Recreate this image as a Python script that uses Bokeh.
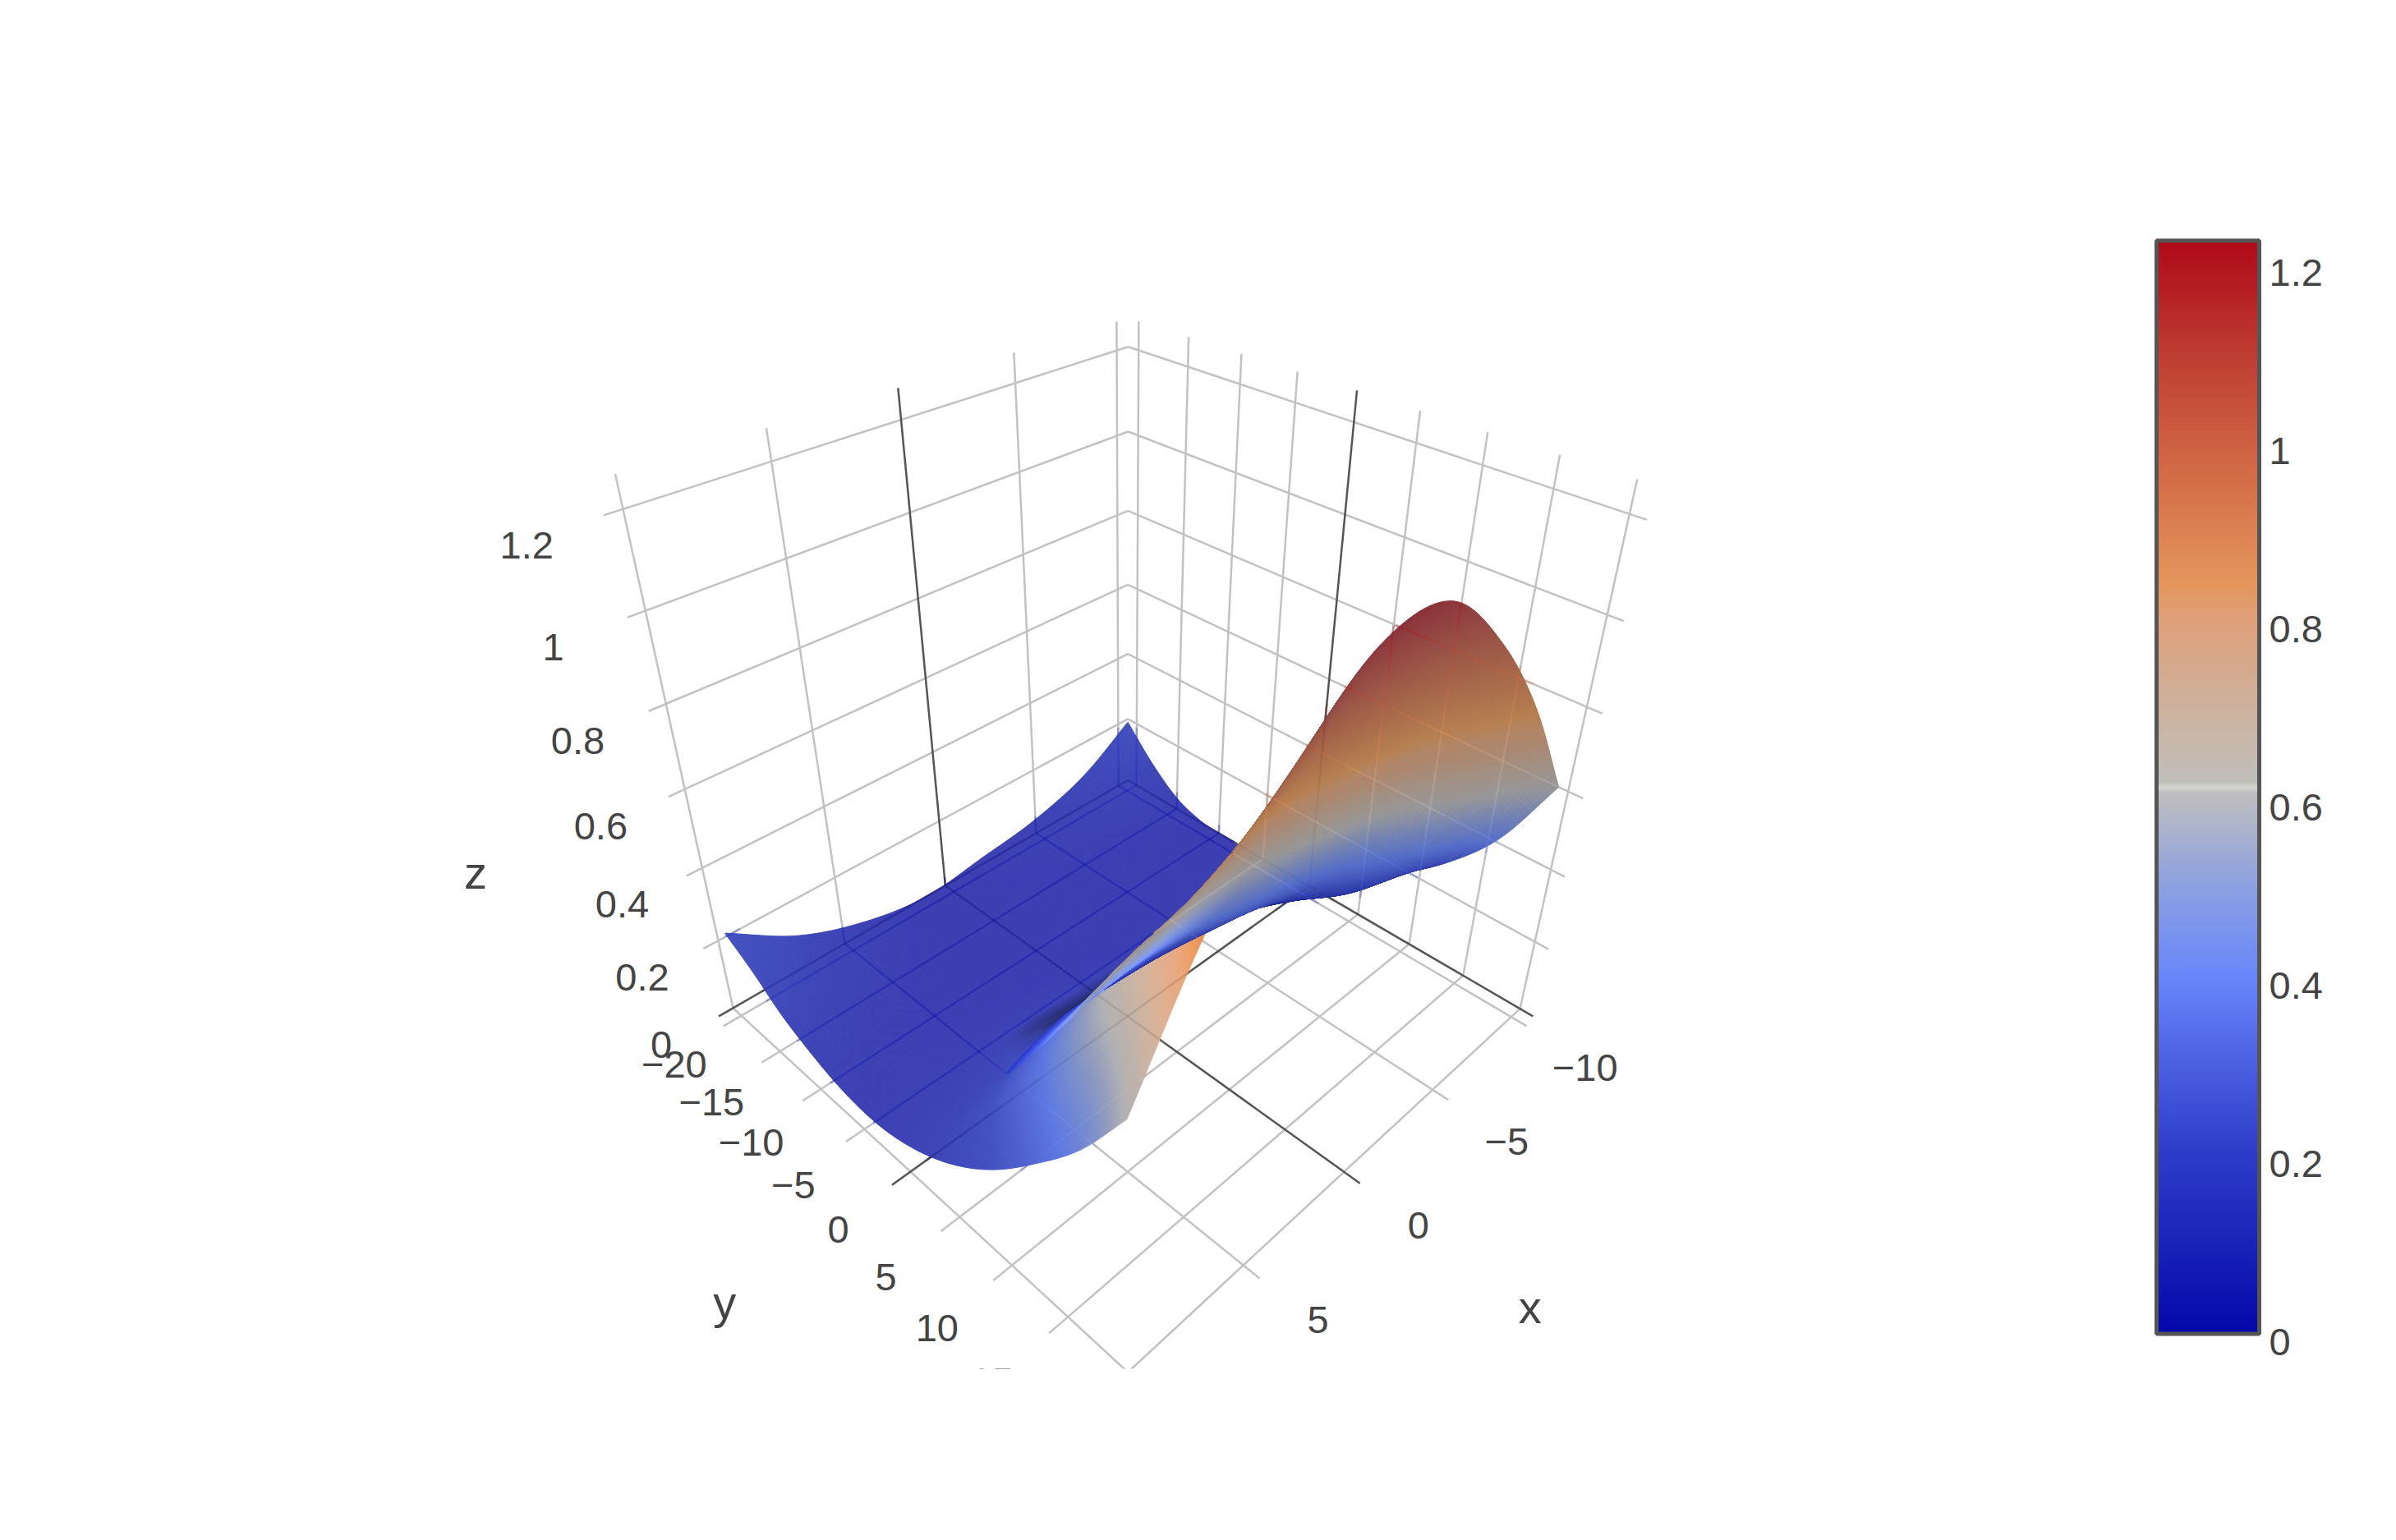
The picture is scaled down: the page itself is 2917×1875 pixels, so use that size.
import numpy as np
from bokeh.plotting import figure
from bokeh.embed import file_html
from bokeh.resources import INLINE
from bokeh.core.properties import value

# ---- data ----
x_ticks = [-10, -5, 0, 5, 10]
y_ticks = [-20, -15, -10, -5, 0, 5, 10, 15, 20]
z_ticks = [0, 0.2, 0.4, 0.6, 0.8, 1.0, 1.2]
x_labels = ["−10", "−5", "0", "5"]
y_labels = ["−20", "−15", "−10", "−5", "0", "5", "10", "15"]
z_labels = ["0", "0.2", "0.4", "0.6", "0.8", "1", "1.2"]
cb_labels = ["0", "0.2", "0.4", "0.6", "0.8", "1", "1.2"]

surf_x = [-10.6, -8, -5, -2, 1, 4, 7, 9.7]
surf_y = [-21.1, -18, -15, -12, -8, -4, 0, 4, 8, 12, 16, 19.3]
surf_z = [
    [.19, .10, .045, .02, .00, .03, .10, .21],
    [.10, .055, .025, .01, .00, .02, .07, .16],
    [.035, .02, .01, .005, .00, .01, .04, .10],
    [.005, .005, .005, .005, .00, .005, .02, .06],
    [.00, .005, .005, .005, .005, .01, .012, .025],
    [.00, .005, .015, .02, .03, .04, .03, .02],
    [.005, .05, .10, .12, .13, .14, .09, .05],
    [.09, .13, .21, .25, .29, .29, .24, .11],
    [.18, .22, .34, .41, .46, .46, .42, .20],
    [.28, .38, .55, .65, .70, .67, .60, .32],
    [.42, .60, .82, .93, .96, .88, .74, .46],
    [.60, .85, 1.07, 1.215, 1.21, 1.08, .88, .61],
]

cmap_z = [0, .1, .2, .3, .4, .5, .6, .606, .612, .618, .7, .8, .84, 1.0, 1.1, 1.223]
cmap_r = [5, 25, 45, 75, 105, 140, 188, 190, 215, 192, 205, 222, 228, 205, 190, 175]
cmap_g = [8, 35, 60, 95, 135, 160, 188, 190, 215, 190, 178, 160, 150, 95, 60, 10]
cmap_b = [170, 185, 200, 225, 250, 225, 192, 192, 210, 186, 158, 122, 92, 65, 50, 25]

# ---- box and camera ----
xmin, xmax, ymin, ymax, zmax = -10.6, 10.0, -21.1, 20.0, 1.265
S = 2917 / 1568
cal = np.array([
    (xmin, ymin, 0, 738, 507), (xmin, ymin, 1.2, 738.5, 229),
    (10, -20, 0, 482, 661), (10, -10, 0, 539, 716), (10, 0, 0, 598, 769),
    (10, 10, 0, 663, 828), (10, 20, 0, 738, 895),
    (5, 20, 0, 813, 828), (0, 20, 0, 877, 768), (-5, 20, 0, 937, 712),
    (xmin, 20, 0, 995, 660), (xmin, 0, 0, 856.5, 584), (0, ymin, 0, 618, 578),
    (xmin, 20, 1.2, 1066, 335), (10, ymin, 1.2, 410, 335),
    (10, -20, zmax, 405, 311), (xmin, 20, zmax, 1071, 311),
    (0, ymin, zmax, 588, 255), (xmin, 0, zmax, 888, 255),
])
A, b = [], []
for X, Y, Z, u, v in cal:
    u, v = u * S, v * S
    A.append([X, Y, Z, 1, 0, 0, 0, 0, -u * X, -u * Y, -u * Z]); b.append(u)
    A.append([0, 0, 0, 0, X, Y, Z, 1, -v * X, -v * Y, -v * Z]); b.append(v)
sol = np.linalg.lstsq(np.array(A), np.array(b), rcond=None)[0]
P = np.append(sol, 1).reshape(3, 4)
cam = np.linalg.solve(P[:, :3], -P[:, 3])


def proj(X, Y, Z):
    X, Y, Z = np.asarray(X, float), np.asarray(Y, float), np.asarray(Z, float)
    w = P[2, 0] * X + P[2, 1] * Y + P[2, 2] * Z + P[2, 3]
    return ((P[0, 0] * X + P[0, 1] * Y + P[0, 2] * Z + P[0, 3]) / w,
            (P[1, 0] * X + P[1, 1] * Y + P[1, 2] * Z + P[1, 3]) / w)


KEEP = [k for k in range(len(cmap_z)) if k not in (7, 8, 9)]


def cmap(z, stripe=False):
    idx = range(len(cmap_z)) if stripe else KEEP
    zs = [cmap_z[k] for k in idx]
    return np.stack([np.interp(z, zs, [cmap_r[k] for k in idx]),
                     np.interp(z, zs, [cmap_g[k] for k in idx]),
                     np.interp(z, zs, [cmap_b[k] for k in idx])], -1)


def to_hex(c):
    c = np.clip(np.rint(c), 0, 255).astype(int)
    return ["#%02x%02x%02x" % tuple(r) for r in c]


def refine(nodes, vals, new):
    """cubic Hermite mesh refinement along axis 0, used to draw the surface smoothly"""
    nodes = np.asarray(nodes, float)
    d = np.gradient(vals, nodes, axis=0)
    i = np.clip(np.searchsorted(nodes, new) - 1, 0, len(nodes) - 2)
    h = (nodes[i + 1] - nodes[i])[:, None]
    t = ((new - nodes[i]))[:, None] / h
    return ((2*t**3 - 3*t**2 + 1) * vals[i] + (t**3 - 2*t**2 + t) * h * d[i]
            + (-2*t**3 + 3*t**2) * vals[i + 1] + (t**3 - t**2) * h * d[i + 1])


W, H = 2900, 1859
p = figure(width=W, height=H, x_range=(0, W), y_range=(H, 0),
           output_backend="svg", toolbar_location=None, min_border=0,
           x_axis_type=None, y_axis_type=None)
p.grid.visible = False
p.outline_line_color = None
p.background_fill_color = "white"

# ---- grid lines ----
GREY, DARK = "#c2c2c2", "#555555"
seg = []   # (x0,y0,z0,x1,y1,z1,dark)
for t in x_ticks:
    end = ymax + (1.3 if t < 10 else 0)
    seg.append((t, ymin, 0, t, end, 0, t == 0))
    seg.append((t, ymin, 0, t, ymin, zmax, t == 0))
for t in y_ticks:
    end = xmax + (0.75 if t < 20 else 0)
    seg.append((xmin, t, 0, end, t, 0, t == 0))
    seg.append((xmin, t, 0, xmin, t, zmax, t == 0))
for t in z_ticks:
    seg.append((xmin, ymin, t, xmin, ymax + 1.1, t, t == 0))
    seg.append((xmin, ymin, t, xmax + 0.6, ymin, t, t == 0))

for dark in (False, True):
    xs, ys = [], []
    for s in seg:
        if s[6] != dark:
            continue
        a = proj(*s[:3]); c = proj(*s[3:6])
        xs.append([float(a[0]), float(c[0])]); ys.append([float(a[1]), float(c[1])])
    p.multi_line(xs, ys, line_color=DARK if dark else GREY, line_width=2.5)

# ---- surface ----
Zt = np.array(surf_z)
fx = np.concatenate([np.linspace(surf_x[0], 5, 70, endpoint=False), np.linspace(5, surf_x[-1], 70)])
fy = np.concatenate([np.linspace(surf_y[0], 0, 50, endpoint=False), np.linspace(0, surf_y[-1], 170)])
Zf = refine(surf_y, Zt, fy)
Zf = refine(surf_x, Zf.T, fx).T
Zf = np.clip(Zf, 0, None)
XX, YY = np.meshgrid(fx, fy)
U, V = proj(XX, YY, Zf)

sc = np.array([20.0, 40.0, 1.27])
Q = np.stack([XX, YY, Zf], -1) / sc
c4 = [Q[:-1, :-1], Q[:-1, 1:], Q[1:, 1:], Q[1:, :-1]]
center = sum(c4) / 4
n = np.cross(c4[1] - c4[0], c4[3] - c4[0])
n /= np.linalg.norm(n, axis=-1, keepdims=True)
vv = cam / sc - center
vv /= np.linalg.norm(vv, axis=-1, keepdims=True)
ndv = (n * vv).sum(-1)
zc = (Zf[:-1, :-1] + Zf[:-1, 1:] + Zf[1:, 1:] + Zf[1:, :-1]) / 4
xc = center[..., 0] * sc[0]
yc = center[..., 1] * sc[1]
base = cmap(zc)
window = (np.clip(7.3 - xc, 0, 1) * np.clip(xc - 1, 0, 1)
          * np.clip((yc - 1) / 2, 0, 1) * np.clip((14 - yc) / 3, 0, 1))
topside = ndv > 0.2 * window
tint = np.clip(1 - zc / 0.4, 0, 1)[..., None] * np.array([55, 55, 25])
lit = (0.05 + 0.15 * np.clip((zc - 0.55) / 0.2, 0, 1))[..., None]
dim_raw = 0.5 + 0.5 * np.clip(ndv / 0.3, 0, 1)
dim = (1 - (1 - dim_raw) * np.clip((5.5 - xc) / 1.5, 0, 1))[..., None]
top_col = (base * (0.85 + lit) + tint) * dim
# underside: dull on the hump, bright where it shows through on the x > 0 side
bright = (np.clip(xc / 3, 0, 1) * np.clip((13 - yc) / 4, 0, 1)
          * (0.25 + 0.75 * np.clip((0.6 - zc) / 0.15, 0, 1)))[..., None] * 0.25
warm = np.clip((zc - 0.75) / 0.45, 0, 1)[..., None] * np.array([0, 42, 38])
und_col = base * (0.8 + bright) + warm
col = np.where(topside[..., None], top_col, und_col)

dist = np.linalg.norm((center * sc - cam), axis=-1)
# top faces first, under faces after: this surface's under side shows over its top side
key = dist - (~topside) * 1e6
order = np.argsort(-key, axis=None)
hexes = to_hex(col.reshape(-1, 3)[order])
i, j = np.unravel_index(order, dist.shape)
us = np.stack([U[i, j], U[i, j + 1], U[i + 1, j + 1], U[i + 1, j]], 1).tolist()
vs = np.stack([V[i, j], V[i, j + 1], V[i + 1, j + 1], V[i + 1, j]], 1).tolist()
p.patches(us, vs, fill_color=hexes, line_color=hexes, line_width=1)

# ---- grid lines seen through the surface take its unshaded colour ----
CELL = 4
zmap = np.full((H // CELL + 2, W // CELL + 2), np.nan)
uc = ((U[i, j] + U[i + 1, j + 1] + U[i, j + 1] + U[i + 1, j]) / 4)
vc = ((V[i, j] + V[i + 1, j + 1] + V[i, j + 1] + V[i + 1, j]) / 4)
for du in (-4, 0, 4):
    for dv in (-4, 0, 4):
        zmap[((vc + dv) / CELL).astype(int), ((uc + du) / CELL).astype(int)] = zc.ravel()[order]
zmap[(vc / CELL).astype(int), (uc / CELL).astype(int)] = zc.ravel()[order]
ox, oy, oc = [], [], []
for s in seg:
    a = np.array(proj(*s[:3]), float); c = np.array(proj(*s[3:6]), float)
    m = max(2, int(np.hypot(*(c - a)) / 10))
    for k in range(m):
        q0 = a + (c - a) * k / m
        q1 = a + (c - a) * (k + 1) / m
        mid = (q0 + q1) / 2
        zv = zmap[int(mid[1] / CELL), int(mid[0] / CELL)]
        if np.isnan(zv):
            continue
        cv = cmap(np.array([zv]))[0] * (0.7 if s[6] else 1.0)
        ox.append([float(q0[0]), float(q1[0])]); oy.append([float(q0[1]), float(q1[1])])
        oc.append(to_hex(cv[None])[0])
if ox:
    p.multi_line(ox, oy, line_color=oc, line_width=2.5, line_alpha=0.33)

# ---- tick labels ----
FONT = value("Liberation Sans")
TXT = "#444444"


def labels(xs, ys, txt, size="47px"):
    p.text(xs, ys, text=txt, text_font=FONT, text_font_size=size, text_color=TXT,
           text_align="center", text_baseline="middle")


tx, ty, tz = np.array(x_ticks[:4], float), np.array(y_ticks[:8], float), np.array(z_ticks, float)
a, c = proj(tx, [ymax] * 4, [0] * 4)
k = np.arange(4)
labels((a + (48 + .2 * k + .3) * S).tolist(), (c + (38 + .9 * k - 5) * S).tolist(), x_labels)
a, c = proj([xmax] * 8, ty, [0] * 8)
labels((a + (-49 + .17 * (10 - ty)) * S).tolist(), (c + (38 + .3 * ty) * S).tolist(), y_labels)
a, c = proj([xmax] * 7, [ymin] * 7, tz)
labels((a + (-47 - 16 * tz / 1.2) * S).tolist(), (c + 24 * S).tolist(), z_labels)
labels([311 * S, 474 * S, 1001 * S], [571 * S, 852 * S, 855 * S], ["z", "y", "x"], "56px")

# plot area ends just under the front corner
p.quad(left=[0], right=[W], top=[895.6 * S], bottom=[H], fill_color="white", line_color=None)

# ---- colour bar ----
cb_top, cb_bot, cb_zmax = 295, 1621, 1.223
N = 500
zz = np.linspace(0, cb_zmax, N)
yy = cb_bot - zz / cb_zmax * (cb_bot - cb_top)
dy = (cb_bot - cb_top) / (N - 1)
cc = to_hex(cmap(zz, stripe=True))
p.quad(left=[2627] * N, right=[2748] * N, top=(yy - dy * .8).tolist(), bottom=(yy + dy * .8).tolist(),
       fill_color=cc, line_color=None)
p.quad(left=[2625], right=[2750], top=[292.5], bottom=[1623.5], fill_color=None,
       line_color="#555555", line_width=5)
p.text([2762] * 7, (cb_bot - tz / cb_zmax * (cb_bot - cb_top) + 12).tolist(), text=cb_labels,
       text_font=FONT, text_font_size="47px", text_color=TXT, text_align="left", text_baseline="middle")

open("out.html", "w").write(file_html(p, INLINE))
